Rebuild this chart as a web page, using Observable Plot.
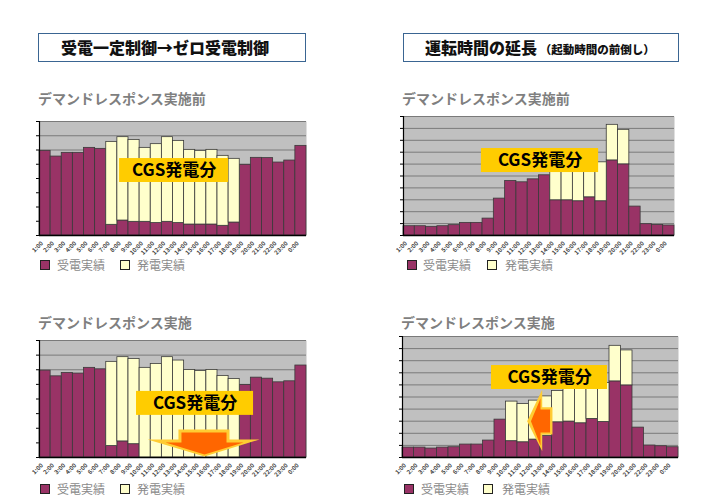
<!DOCTYPE html>
<html><head><meta charset="utf-8">
<script src="https://cdn.jsdelivr.net/npm/d3@7"></script>
<script src="https://cdn.jsdelivr.net/npm/@observablehq/plot@0.6"></script>
<style>
body{margin:0;background:#fff;}
#root{position:relative;width:709px;height:499px;overflow:hidden;background:#fff;font-family:"Noto Sans CJK JP","Noto Sans",sans-serif;}
.hbox{position:absolute;border:1.5px solid #3a6592;box-sizing:border-box;height:29px;top:33px;}
.htxt{position:absolute;top:0;line-height:26px;font-weight:900;color:#111;white-space:nowrap;}
.sub{position:absolute;font-size:14px;font-weight:700;color:#7f7f7f;white-space:nowrap;line-height:16px;}
.panel{position:absolute;}
.lg{position:absolute;width:10px;height:10px;border:1px solid #222;box-sizing:border-box;}
.lt{position:absolute;font-size:12px;color:#8a8a8a;line-height:13px;white-space:nowrap;}
</style></head><body><div id="root"></div>
<script>
const hours = ["1:00","2:00","3:00","4:00","5:00","6:00","7:00","8:00","9:00","10:00","11:00","12:00","13:00","14:00","15:00","16:00","17:00","18:00","19:00","20:00","21:00","22:00","23:00","0:00"];

// 受電一定制御 — デマンドレスポンス実施前
const recvA = [5.94,5.54,5.80,5.80,6.15,6.08,0.75,1.05,0.96,0.96,0.87,0.96,0.87,0.77,0.77,0.77,0.68,0.91,4.96,5.45,5.43,5.12,5.26,6.29];
const genA  = [0,0,0,0,0,0,5.82,5.85,5.75,5.19,5.54,5.94,5.77,5.24,5.17,5.24,4.91,4.47,0,0,0,0,0,0];
// ゼロ受電制御 — デマンドレスポンス実施
const recvB = [5.94,5.55,5.78,5.74,6.13,6.03,0.78,1.10,0.91,0,0,0,0,0,0,0,0,0,4.96,5.46,5.39,5.14,5.21,6.29];
const genB  = [0,0,0,0,0,0,5.76,5.76,5.83,6.13,6.40,6.86,6.63,5.99,5.92,5.99,5.58,5.37,0,0,0,0,0,0];
// 運転時間の延長 — 実施前
const recvC = [0.78,0.78,0.73,0.78,0.87,1.06,1.06,1.42,3.10,4.58,4.47,4.72,5.06,2.96,2.96,2.88,3.21,2.88,6.31,5.98,2.43,0.95,0.89,0.84];
const genC  = [0,0,0,0,0,0,0,0,0,0,0,0,0,2.54,2.74,2.92,2.79,3.27,2.99,2.90,0,0,0,0];
// 運転時間の延長 — 実施
const recvD = [0.82,0.82,0.74,0.82,0.85,1.07,1.07,1.40,3.13,1.35,1.26,1.48,1.80,2.91,2.97,2.83,3.19,2.94,6.29,5.96,2.47,0.99,0.93,0.85];
const genD  = [0,0,0,0,0,0,0,0,0,3.27,3.16,3.22,3.25,2.59,2.73,2.97,2.81,3.21,2.94,2.89,0,0,0,0];

const legendLabels = ["受電実績","発電実績"];
const colors = {recv:"#993366", gen:"#ffffcc"};

const root = document.getElementById("root");
function el(tag, cls, css, text){const e=document.createElement(tag); if(cls) e.className=cls; Object.assign(e.style, css||{}); if(text!=null) e.textContent=text; root.appendChild(e); return e;}

// header boxes
const b1 = el("div","hbox",{left:"38px",width:"268px"});
const t1 = document.createElement("div"); t1.className="htxt"; t1.style.left="22px"; t1.style.fontSize="16px"; t1.textContent="受電一定制御→ゼロ受電制御"; b1.appendChild(t1);
const b2 = el("div","hbox",{left:"403px",width:"276px"});
const t2 = document.createElement("div"); t2.className="htxt"; t2.style.left="21px"; t2.innerHTML='<span style="font-size:16px">運転時間の延長</span><span style="font-size:11.5px;font-weight:900"> （起動時間の前倒し）</span>'; b2.appendChild(t2);

function panel(cfg){
  const {recv, gen, ymax, L, R, T, B, svgLeft, svgTop, sub, subTop, label, arrows, legTop, leg} = cfg;
  const rows = hours.map((h,i)=>({i, h, recv: recv[i], gen: gen[i]}));
  const width = R - svgLeft + 10, height = (B - svgTop) + 26;
  const marks = [
    Plot.frame({fill:"#c0c0c0", stroke:"none"}),
    Plot.ruleY(d3.range(1, ymax+1), {stroke:"#7a7a7a", strokeWidth:1}),
    Plot.rect(rows, {x1: d=>d.i, x2: d=>d.i+1, y1: 0, y2: "recv", fill: colors.recv, stroke:"#3a3a3a", strokeWidth:0.8}),
    Plot.rect(rows.filter(d=>d.gen>0), {x1: d=>d.i, x2: d=>d.i+1, y1: "recv", y2: d=>d.recv+d.gen, fill: colors.gen, stroke:"#3a3a3a", strokeWidth:0.8}),
    Plot.ruleY([0], {stroke:"#000", strokeWidth:1.6}),
    Plot.ruleX([0], {stroke:"#000", strokeWidth:1.2}),
    Plot.text(rows, {x: d=>d.i+0.5, y: 0, text: "h", rotate: -45, textAnchor: "end", fontSize: 6, fontWeight: "bold", fill:"#444", dx: -3, dy: 7})
  ];
  for (const a of arrows) {
    marks.push(Plot.line(a.outer, {x:"x", y:"y", fill:"#ffcc33", stroke:"none", curve:"linear-closed"}));
    marks.push(Plot.line(a.inner, {x:"x", y:"y", fill:"#ff6600", stroke:"none", curve:"linear-closed"}));
  }
  marks.push(Plot.rect([label], {x1:"x1", x2:"x2", y1:"y1", y2:"y2", fill:"#ffcc00"}));
  marks.push(Plot.text([label], {x: d=>(d.x1+d.x2)/2, y: d=>(d.y1+d.y2)/2, text: d=>"CGS発電分", fontSize: 17, fontWeight: "bold", fill:"#000"}));
  const svg = Plot.plot({
    width, height,
    marginLeft: L - svgLeft, marginRight: width - (R - svgLeft), marginTop: T - svgTop, marginBottom: height - (B - svgTop),
    x: {domain:[0,24], axis:null},
    y: {domain:[0,ymax], ticks: ymax, tickFormat: ()=>"", tickSize: 3, label: null},
    style: {background:"transparent", fontFamily:'"Noto Sans CJK JP", sans-serif', overflow:"visible", color:"#000"},
    marks
  });
  const wrap = el("div","panel",{left: svgLeft+"px", top: svgTop+"px"});
  wrap.appendChild(svg);
  el("div","sub",{left:(L-1)+"px", top: subTop+"px"}, sub);
  el("div","lg",{left: leg[0]+"px", top: legTop+"px", background: colors.recv});
  el("div","lt",{left: leg[1]+"px", top: (legTop-2)+"px"}, legendLabels[0]);
  el("div","lg",{left: leg[2]+"px", top: legTop+"px", background: colors.gen});
  el("div","lt",{left: leg[3]+"px", top: (legTop-2)+"px"}, legendLabels[1]);
}

panel({recv:recvA, gen:genA, ymax:8, L:39, R:306, T:121, B:235, svgLeft:0, svgTop:111,
  sub:"デマンドレスポンス実施前", subTop:90,
  label:{x1:7.2, x2:17.0, y1:3.72, y2:5.4}, arrows:[], legTop:260, leg:[40,57,120,137]});
panel({recv:recvC, gen:genC, ymax:10, L:403, R:674, T:116, B:235, svgLeft:360, svgTop:106,
  sub:"デマンドレスポンス実施前", subTop:90,
  label:{x1:6.9, x2:17.28, y1:5.29, y2:7.31}, arrows:[], legTop:260, leg:[407,423,487,505]});
panel({recv:recvB, gen:genB, ymax:8, L:39, R:306, T:340, B:457, svgLeft:0, svgTop:330,
  sub:"デマンドレスポンス実施", subTop:314,
  label:{x1:8.72, x2:19.24, y1:2.88, y2:4.52},
  arrows:[{
    outer:[{x:12.49,y:1.91},{x:17.08,y:1.91},{x:17.08,y:1.23},{x:19.78,y:1.23},{x:14.83,y:0.07},{x:9.71,y:1.23},{x:12.49,y:1.23}],
    inner:[{x:12.76,y:1.71},{x:16.81,y:1.71},{x:16.81,y:1.03},{x:18.34,y:1.03},{x:14.83,y:0.21},{x:11.33,y:1.03},{x:12.76,y:1.03}]
  }], legTop:484, leg:[40,57,120,137]});
panel({recv:recvD, gen:genD, ymax:10, L:402, R:678, T:336, B:457, svgLeft:360, svgTop:326,
  sub:"デマンドレスポンス実施", subTop:314,
  label:{x1:7.74, x2:17.83, y1:5.62, y2:7.6},
  arrows:[{
    outer:[{x:10.84,y:3.0},{x:12.15,y:5.62},{x:12.15,y:4.16},{x:13.04,y:4.16},{x:13.04,y:1.9},{x:12.15,y:1.9},{x:12.15,y:0.52}],
    inner:[{x:11.17,y:3.0},{x:12.0,y:4.88},{x:12.0,y:3.97},{x:12.83,y:3.97},{x:12.83,y:2.07},{x:12.0,y:2.07},{x:12.0,y:0.99}]
  }], legTop:484, leg:[404,421,483,502]});
</script>
</body></html>
